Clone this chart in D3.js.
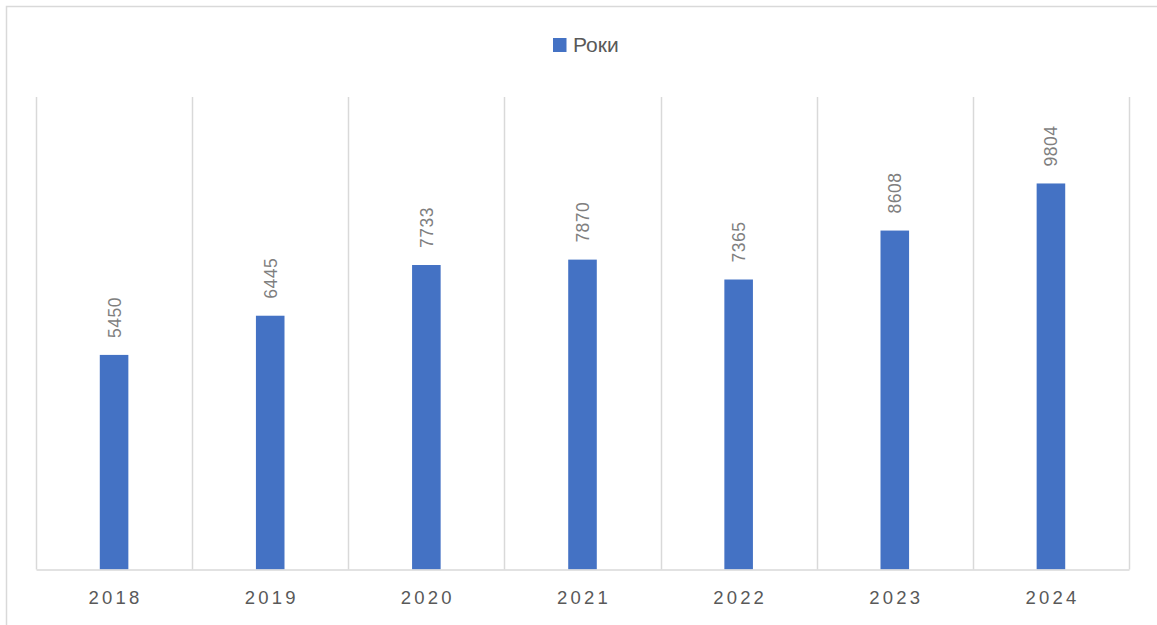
<!DOCTYPE html>
<html>
<head>
<meta charset="utf-8">
<script src="https://cdn.jsdelivr.net/npm/d3@7"></script>
<style>
  html, body { margin: 0; padding: 0; background: #fff; }
  svg { display: block; }
</style>
</head>
<body>
<svg id="chart" width="1157" height="625"></svg>
<script>
// Annual totals, 2018–2024
const years = ["2018", "2019", "2020", "2021", "2022", "2023", "2024"];
const values = [5450, 6445, 7733, 7870, 7365, 8608, 9804];
const seriesName = "Роки";
const yMax = 12000;

const svg = d3.select("#chart");
const W = 1157, H = 625;
const margin = { left: 36, right: 28, top: 97, bottom: 55.5 };
const plotW = W - margin.left - margin.right;
const plotH = H - margin.top - margin.bottom;

const barColor = "#4472C4";
const gridColor = "#d9d9d9";
const font = "'Liberation Sans', Arial, sans-serif";

// chart frame
svg.append("rect")
  .attr("x", 6.5).attr("y", 6.5)
  .attr("width", W + 10).attr("height", H + 10)
  .attr("fill", "none").attr("stroke", "#d9d9d9").attr("stroke-width", 1.5);

const g = svg.append("g").attr("transform", `translate(${margin.left},${margin.top})`);

const x = d3.scaleBand().domain(years).range([0, plotW]).paddingInner(0).paddingOuter(0);
const y = d3.scaleLinear().domain([0, yMax]).range([plotH, 0]);

// vertical category separators
const edges = years.map(d => x(d)).concat([plotW]);
g.selectAll("line.sep").data(edges).join("line")
  .attr("class", "sep")
  .attr("x1", d => Math.round(d) + 0.5).attr("x2", d => Math.round(d) + 0.5)
  .attr("y1", 0).attr("y2", plotH)
  .attr("stroke", gridColor).attr("stroke-width", 1.5);

// bars
const barW = x.bandwidth() * 0.183;
g.selectAll("rect.bar").data(values).join("rect")
  .attr("class", "bar")
  .attr("x", (d, i) => x(years[i]) + x.bandwidth() / 2 - barW / 2)
  .attr("y", d => y(d))
  .attr("width", barW)
  .attr("height", d => plotH - y(d))
  .attr("fill", barColor);

// rotated value labels
g.selectAll("text.val").data(values).join("text")
  .attr("class", "val")
  .attr("transform", (d, i) => `translate(${x(years[i]) + x.bandwidth() / 2 + 6.5},${y(d) - 17}) rotate(-90)`)
  .attr("text-anchor", "start")
  .attr("font-family", font)
  .attr("font-size", 17.5)
  .attr("letter-spacing", 0.5)
  .attr("fill", "#7f7f7f")
  .text(d => d);

// baseline / x axis
const xAxis = d3.axisBottom(x).tickSize(0).tickPadding(0);
const ax = g.append("g").attr("transform", `translate(0,${plotH})`).call(xAxis);
ax.select(".domain").attr("stroke", gridColor).attr("stroke-width", 1.5);
ax.selectAll(".tick text")
  .attr("y", 21)
  .attr("dx", 1.5)
  .attr("font-family", font)
  .attr("font-size", 18.5)
  .attr("letter-spacing", 3.2)
  .attr("fill", "#595959");

// legend
const legend = svg.append("g").attr("transform", "translate(553,38)");
legend.append("rect").attr("width", 13.5).attr("height", 14).attr("fill", barColor);
legend.append("text")
  .attr("x", 20).attr("y", 14)
  .attr("font-family", font)
  .attr("font-size", 21)
  .attr("fill", "#595959")
  .text(seriesName);
</script>
</body>
</html>
